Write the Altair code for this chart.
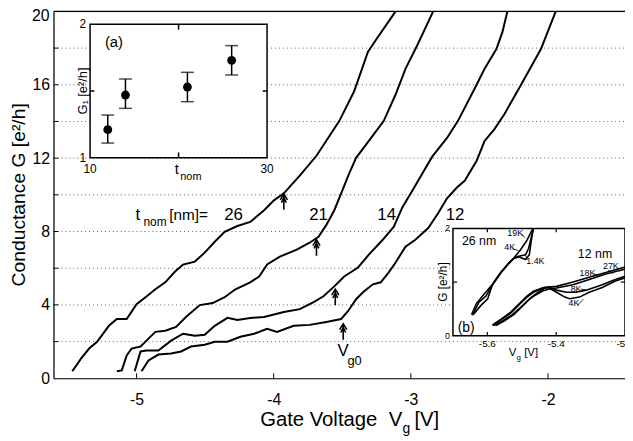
import altair as alt
import pandas as pd

FONT = "Liberation Sans"

# ---------------- main panel: conductance vs gate voltage ----------------
SERIES = ["26", "21", "14", "12"]

V_26 = [-5.469, -5.404, -5.346, -5.288, -5.202, -5.144, -5.072, -5.000, -4.935, -4.863,
        -4.791, -4.719, -4.661, -4.575, -4.503, -4.430, -4.358, -4.265, -4.171, -4.070,
        -3.998, -3.926, -3.810, -3.688, -3.522, -3.414, -3.313, -3.255, -3.111]
G_26 = [0.38, 1.08, 1.62, 1.99, 2.86, 3.23, 3.23, 4.04, 4.42, 4.85,
        5.23, 5.82, 6.20, 6.36, 6.85, 7.44, 7.98, 8.30, 8.52, 9.16,
        9.70, 10.08, 11.05, 12.13, 14.02, 15.63, 17.79, 18.44, 20.0]

V_21 = [-5.144, -5.108, -5.072, -5.036, -4.971, -4.928, -4.863, -4.791, -4.712, -4.640,
        -4.539, -4.445, -4.358, -4.279, -4.171, -4.106, -4.048, -3.955, -3.832, -3.738,
        -3.673, -3.616, -3.558, -3.508, -3.450, -3.399, -3.306, -3.198, -3.111, -3.039,
        -2.952, -2.837]
G_21 = [0.38, 0.43, 1.24, 1.62, 1.73, 2.05, 2.53, 2.59, 2.80, 3.34,
        3.99, 4.10, 4.42, 4.85, 5.23, 5.55, 6.20, 6.63, 7.01, 7.39,
        7.71, 8.36, 9.16, 10.08, 11.16, 12.02, 12.94, 14.02, 15.47, 16.87,
        18.17, 20.0]

V_14 = [-5.014, -4.971, -4.928, -4.841, -4.748, -4.661, -4.575, -4.503, -4.430, -4.337,
        -4.265, -4.171, -4.070, -3.926, -3.810, -3.709, -3.637, -3.558, -3.486, -3.385,
        -3.306, -3.205, -3.125, -3.061, -2.988, -2.916, -2.844, -2.736, -2.657, -2.534,
        -2.462, -2.376, -2.332, -2.296]
G_14 = [0.38, 1.46, 1.51, 1.51, 2.05, 2.43, 2.32, 2.37, 2.86, 3.29,
        3.18, 3.29, 3.34, 3.61, 3.77, 4.15, 4.47, 5.01, 5.55, 6.04,
        6.74, 7.55, 8.25, 9.33, 10.24, 11.16, 12.08, 13.10, 14.02, 15.80,
        16.87, 17.95, 18.87, 20.0]

V_12 = [-4.964, -4.913, -4.841, -4.748, -4.676, -4.603, -4.503, -4.430, -4.337, -4.243,
        -4.142, -4.048, -3.976, -3.854, -3.738, -3.616, -3.508, -3.457, -3.399, -3.349,
        -3.277, -3.219, -3.161, -3.111, -3.039, -2.967, -2.873, -2.801, -2.736, -2.664,
        -2.606, -2.520, -2.462, -2.390, -2.318, -2.195, -2.051, -1.994, -1.943]
G_12 = [0.38, 0.97, 1.29, 1.35, 1.46, 1.73, 1.83, 1.99, 1.99, 2.26,
        2.43, 2.70, 2.53, 2.86, 2.91, 3.07, 3.23, 3.67, 4.31, 4.69,
        5.12, 5.23, 5.77, 6.31, 7.17, 7.55, 8.19, 9.00, 9.81, 10.40,
        10.78, 11.86, 12.94, 13.58, 14.39, 16.01, 17.95, 19.03, 20.0]

Y_TICKS = [0, 4, 8, 12, 16]
Y_MINOR = [2, 4, 6, 8, 10, 12, 14, 16, 18]
X_TICKS = [-5, -4, -3, -2]

LABEL_TEXT = ["26", "21", "14", "12"]
LABEL_V = [-4.293, -3.673, -3.176, -2.678]
LABEL_G = [8.63, 8.63, 8.63, 8.63]

TNOM_TEXT = ["t", "nom", "[nm]="]
TNOM_V = [-5.007, -4.950, -4.762]
TNOM_G = [8.63, 8.30, 8.63]
TNOM_SIZE = [17, 12, 15.5]

ARROW_V = [-3.926, -3.688, -3.551, -3.493]
ARROW_G = [9.62, 7.12, 4.42, 2.54]

VG0_TEXT = ["V", "g0"]
VG0_V = [-3.493, -3.462]
VG0_G = [1.24, 0.70]

# ---------------- inset (a): G1 vs t_nom ----------------
T_NOM = [12, 14, 21, 26]
G1 = [1.21, 1.47, 1.53, 1.73]
G1_LO = [1.11, 1.37, 1.42, 1.62]
G1_HI = [1.32, 1.59, 1.64, 1.84]

# ---------------- inset (b): low-G region at several temperatures ----------------
B_CURVES = {
    "26nm 19K": ([-5.646, -5.632, -5.609, -5.585, -5.561, -5.537, -5.523, -5.504, -5.485, -5.471, -5.466],
                 [0.39, 0.60, 0.78, 0.96, 1.18, 1.36, 1.45, 1.60, 1.78, 1.96, 2.0]),
    "26nm 4K": ([-5.640, -5.618, -5.599, -5.585, -5.561, -5.537, -5.523, -5.509, -5.489, -5.480, -5.471, -5.466],
                [0.40, 0.57, 0.69, 0.96, 1.18, 1.36, 1.45, 1.48, 1.51, 1.63, 1.87, 2.0]),
    "26nm 1.4K": ([-5.643, -5.625, -5.604, -5.585, -5.561, -5.537, -5.523, -5.509, -5.489, -5.478, -5.473, -5.467],
                  [0.38, 0.62, 0.74, 0.95, 1.17, 1.35, 1.44, 1.47, 1.42, 1.51, 1.75, 1.98]),
    "12nm 4K": ([-5.585, -5.560, -5.532, -5.504, -5.485, -5.466, -5.437, -5.423, -5.399, -5.375, -5.361, -5.332, -5.304, -5.266, -5.228, -5.200],
                [0.19, 0.30, 0.42, 0.60, 0.72, 0.81, 0.89, 0.90, 0.81, 0.72, 0.69, 0.72, 0.81, 0.90, 1.02, 1.08]),
    "12nm 8K": ([-5.585, -5.560, -5.532, -5.504, -5.485, -5.466, -5.437, -5.423, -5.399, -5.370, -5.342, -5.313, -5.266, -5.228, -5.200],
                [0.20, 0.31, 0.44, 0.62, 0.74, 0.83, 0.90, 0.91, 0.85, 0.81, 0.81, 0.85, 0.95, 1.05, 1.11]),
    "12nm 18K": ([-5.580, -5.555, -5.528, -5.500, -5.480, -5.460, -5.437, -5.420, -5.399, -5.351, -5.304, -5.256, -5.200],
                 [0.19, 0.28, 0.39, 0.55, 0.67, 0.76, 0.84, 0.87, 0.89, 0.95, 1.05, 1.15, 1.24]),
    "12nm 27K": ([-5.575, -5.550, -5.522, -5.495, -5.475, -5.455, -5.435, -5.420, -5.399, -5.351, -5.304, -5.256, -5.200],
                 [0.19, 0.28, 0.40, 0.57, 0.70, 0.80, 0.88, 0.91, 0.92, 1.00, 1.09, 1.18, 1.28]),
}

B_TEMP_TEXT = ["19K", "4K", "1.4K", "18K", "27K", "8K", "4K"]
B_TEMP_V = [-5.542, -5.551, -5.487, -5.332, -5.264, -5.358, -5.364]
B_TEMP_G = [1.86, 1.59, 1.33, 1.11, 1.24, 0.81, 0.55]

B_LEAD_V = [-5.502, -5.528, -5.484, -5.292, -5.249, -5.329, -5.338]
B_LEAD_V2 = [-5.490, -5.510, -5.490, -5.275, -5.234, -5.312, -5.321]
B_LEAD_G = [1.90, 1.62, 1.42, 1.16, 1.22, 0.87, 0.57]
B_LEAD_G2 = [1.83, 1.59, 1.51, 1.11, 1.16, 0.85, 0.68]

B_BIG_TEXT = ["26 nm", "12 nm", "(b)"]
B_BIG_V = [-5.674, -5.337, -5.686]
B_BIG_G = [1.70, 1.45, 0.07]
B_BIG_SIZE = [12.5, 12.5, 14]

B_X_TICKS = [-5.6, -5.4, -5.2]
B_X_LABELS = ["-5.6", "-5.4", "-5.2"]
B_Y_LABELS_V = [2, 0]

# ---------------- layout ----------------
W, H = 578, 371
X_DOMAIN = [-5.606, -1.438]
Y_DOMAIN = [0, 20]
A_X_RANGE = [37, 216]
A_Y_RANGE = [148, 13]
B_X_RANGE = [404, 578]
B_Y_RANGE = [328, 219.5]

xs = alt.Scale(domain=X_DOMAIN, nice=False, zero=False)
ys = alt.Scale(domain=Y_DOMAIN, nice=False, zero=False)

x_axis = alt.Axis(values=X_TICKS, labelExpr="'-' + abs(datum.value)", ticks=False, grid=False,
                  domainColor="black", domainWidth=1.2, labelFont=FONT, labelFontSize=16,
                  labelColor="black", labelPadding=14, labelOverlap=False, title=None)
y_axis = alt.Axis(values=Y_TICKS, ticks=False, grid=False,
                  domainColor="black", domainWidth=1.2, labelFont=FONT, labelFontSize=16,
                  labelColor="black", labelPadding=4, labelOverlap=False,
                  title="Conductance  G  [e²/h]", titleFont=FONT, titleFontSize=19.5,
                  titleFontWeight="normal", titleColor="black", titleX=-35, titleY=185,
                  titleAngle=270, titleAlign="center", titleBaseline="middle")

X = alt.X("V:Q", scale=xs, axis=x_axis)
Y = alt.Y("G:Q", scale=ys, axis=y_axis)

rows = []
for s, vv, gg in zip(SERIES, [V_26, V_21, V_14, V_12], [G_26, G_21, G_14, G_12]):
    for i, (v, g) in enumerate(zip(vv, gg)):
        rows.append({"s": s, "i": i, "V": v, "G": g})
curve_df = pd.DataFrame(rows)

grid = alt.Chart(pd.DataFrame({"G": Y_MINOR})).mark_rule(
    color="#666", strokeWidth=1, strokeDash=[1, 3]).encode(
    y=Y, x=alt.value(0), x2=alt.value(W))

curves = alt.Chart(curve_df).mark_line(color="black", strokeWidth=2).encode(
    x=X, y=Y, detail="s:N", order="i:Q")

one = pd.DataFrame({"d": [0]})
top_frame = alt.Chart(one).mark_rule(color="black", strokeWidth=1.2).encode(
    x=alt.value(0), x2=alt.value(W), y=alt.value(0))
top_label = alt.Chart(one).mark_text(font=FONT, fontSize=16, align="right", baseline="middle",
                                     color="black", text="20").encode(
    x=alt.value(-4), y=alt.value(5))

yticks = alt.Chart(pd.DataFrame({"G": Y_MINOR})).mark_rule(color="black").encode(
    y=Y, x=alt.value(0), x2=alt.value(5))
xticks = alt.Chart(pd.DataFrame({"V": X_TICKS})).mark_rule(color="black").encode(
    x=X, y=alt.value(H), y2=alt.value(H - 5))

labels = alt.Chart(pd.DataFrame({"V": LABEL_V, "G": LABEL_G, "txt": LABEL_TEXT})).mark_text(
    font=FONT, fontSize=17, align="center", baseline="alphabetic", color="black").encode(
    x=X, y=Y, text="txt:N")

tnom = alt.Chart(pd.DataFrame({"V": TNOM_V, "G": TNOM_G, "txt": TNOM_TEXT, "sz": TNOM_SIZE})).mark_text(
    font=FONT, align="left", baseline="alphabetic", color="black").encode(
    x=X, y=Y, text="txt:N", size=alt.Size("sz:Q", scale=None, legend=None))

ARROW_PATH = "M0,-1L0,1M-0.45,-0.25L0,-1L0.45,-0.25M-0.3,0.1L0,-0.55L0.3,0.1"
arrows = alt.Chart(pd.DataFrame({"V": ARROW_V, "G": ARROW_G})).mark_point(
    shape=ARROW_PATH, size=260, filled=False, color="black", strokeWidth=1.6, opacity=1).encode(
    x=X, y=Y)

vg0_a = alt.Chart(pd.DataFrame({"V": VG0_V[:1], "G": VG0_G[:1], "txt": VG0_TEXT[:1]})).mark_text(
    font=FONT, fontSize=17, align="center", baseline="alphabetic", color="black").encode(
    x=X, y=Y, text="txt:N")
vg0_b = alt.Chart(pd.DataFrame({"V": VG0_V[1:], "G": VG0_G[1:], "txt": VG0_TEXT[1:]})).mark_text(
    font=FONT, fontSize=13, align="left", baseline="alphabetic", color="black").encode(
    x=X, y=Y, text="txt:N")

XT_TEXT = ["Gate Voltage", "V", "g", "[V]"]
XT_X = [209, 339, 353, 365]
XT_Y = [419, 419, 426, 419]
XT_SIZE = [20.5, 20.5, 14, 20.5]
xtitle = alt.Chart(pd.DataFrame({"px": XT_X, "py": XT_Y, "txt": XT_TEXT, "sz": XT_SIZE})).mark_text(
    font=FONT, align="left", baseline="alphabetic", color="black").encode(
    x=alt.X("px:Q", scale=None), y=alt.Y("py:Q", scale=None), text="txt:N",
    size=alt.Size("sz:Q", scale=None, legend=None))

main = alt.layer(grid, curves, top_frame, top_label, yticks, xticks, labels, tnom, arrows,
                 vg0_a, vg0_b, xtitle)

# ---------------- inset (a) ----------------
xa = alt.Scale(domain=[10, 30], range=A_X_RANGE, nice=False, zero=False)
ya = alt.Scale(domain=[1, 2], range=A_Y_RANGE, nice=False, zero=False)
XA = alt.X("t:Q", scale=xa, axis=None)
YA = alt.Y("g:Q", scale=ya, axis=None)

a_bg = alt.Chart(pd.DataFrame({"t": [10], "t2": [30], "g": [1], "g2": [2]})).mark_rect(
    fill="white", stroke="black", strokeWidth=1.5).encode(x=XA, x2="t2:Q", y=YA, y2="g2:Q")
a_ticks = alt.Chart(pd.DataFrame({"t": [20, 20, 10, 29.5], "t2": [20, 20, 10.5, 30],
                                  "g": [1, 1.96, 1.5, 1.5], "g2": [1.04, 2, 1.5, 1.5]})).mark_rule(
    color="black", strokeWidth=1.5).encode(x=XA, x2="t2:Q", y=YA, y2="g2:Q")
a_df = pd.DataFrame({"t": T_NOM, "g": G1, "lo": G1_LO, "hi": G1_HI})
a_err = alt.Chart(a_df).mark_rule(color="black", strokeWidth=1.5).encode(
    x=XA, y=alt.Y("lo:Q", scale=ya, axis=None), y2="hi:Q")
a_cap_lo = alt.Chart(a_df).mark_tick(orient="horizontal", size=13, thickness=1.5, color="black").encode(
    x=XA, y=alt.Y("lo:Q", scale=ya, axis=None))
a_cap_hi = alt.Chart(a_df).mark_tick(orient="horizontal", size=13, thickness=1.5, color="black").encode(
    x=XA, y=alt.Y("hi:Q", scale=ya, axis=None))
a_pts = alt.Chart(a_df).mark_circle(size=80, color="black", opacity=1).encode(x=XA, y=YA)
a_xlab = alt.Chart(pd.DataFrame({"t": [10, 30], "g": [1, 1], "txt": ["10", "30"]})).mark_text(
    font=FONT, fontSize=12, align="center", baseline="top", dy=6, color="black").encode(
    x=XA, y=YA, text="txt:N")
a_ylab = alt.Chart(pd.DataFrame({"t": [10, 10], "g": [2, 1], "txt": ["2", "1"]})).mark_text(
    font=FONT, fontSize=12, align="right", baseline="middle", dx=-4, color="black").encode(
    x=XA, y=YA, text="txt:N")
a_xt1 = alt.Chart(pd.DataFrame({"t": [19.8], "g": [1], "txt": ["t"]})).mark_text(
    font=FONT, fontSize=15, align="center", baseline="alphabetic", dy=16, color="black").encode(
    x=XA, y=YA, text="txt:N")
a_xt2 = alt.Chart(pd.DataFrame({"t": [20.2], "g": [1], "txt": ["nom"]})).mark_text(
    font=FONT, fontSize=11, align="left", baseline="alphabetic", dy=22, color="black").encode(
    x=XA, y=YA, text="txt:N")
a_yt = alt.Chart(pd.DataFrame({"t": [9.2], "g": [1.5], "txt": ["G₁ [e²/h]"]})).mark_text(
    font=FONT, fontSize=13, align="center", baseline="middle", angle=270, color="black").encode(
    x=XA, y=YA, text="txt:N")
a_tag = alt.Chart(pd.DataFrame({"t": [12.7], "g": [1.867], "txt": ["(a)"]})).mark_text(
    font=FONT, fontSize=15, align="center", baseline="middle", color="black").encode(
    x=XA, y=YA, text="txt:N")

inset_a = alt.layer(a_bg, a_ticks, a_err, a_cap_lo, a_cap_hi, a_pts, a_xlab, a_ylab,
                    a_xt1, a_xt2, a_yt, a_tag)

# ---------------- inset (b) ----------------
xb = alt.Scale(domain=[-5.7, -5.2], range=B_X_RANGE, nice=False, zero=False)
yb = alt.Scale(domain=[0, 2], range=B_Y_RANGE, nice=False, zero=False)
XB = alt.X("vb:Q", scale=xb, axis=None)
YB = alt.Y("gb:Q", scale=yb, axis=None)

b_rows = []
for name, (vv, gg) in B_CURVES.items():
    for i, (v, g) in enumerate(zip(vv, gg)):
        b_rows.append({"c": name, "i": i, "vb": v, "gb": g})
b_df = pd.DataFrame(b_rows)

b_bg = alt.Chart(pd.DataFrame({"vb": [-5.7], "vb2": [-5.2], "gb": [0], "gb2": [2]})).mark_rect(
    fill="white", stroke="black", strokeWidth=1.5).encode(x=XB, x2="vb2:Q", y=YB, y2="gb2:Q")
b_ticks = alt.Chart(pd.DataFrame({"vb": [-5.6, -5.4, -5.6, -5.4, -5.7, -5.212],
                                  "vb2": [-5.6, -5.4, -5.6, -5.4, -5.688, -5.2],
                                  "gb": [0, 0, 1.93, 1.93, 1, 1],
                                  "gb2": [0.07, 0.07, 2, 2, 1, 1]})).mark_rule(
    color="black", strokeWidth=1.2).encode(x=XB, x2="vb2:Q", y=YB, y2="gb2:Q")
b_lines = alt.Chart(b_df).mark_line(color="black", strokeWidth=1.6).encode(
    x=XB, y=YB, detail="c:N", order="i:Q")
b_lead = alt.Chart(pd.DataFrame({"vb": B_LEAD_V, "vb2": B_LEAD_V2, "gb": B_LEAD_G, "gb2": B_LEAD_G2})).mark_rule(
    color="black", strokeWidth=0.8).encode(x=XB, x2="vb2:Q", y=YB, y2="gb2:Q")
b_temp = alt.Chart(pd.DataFrame({"vb": B_TEMP_V, "gb": B_TEMP_G, "txt": B_TEMP_TEXT})).mark_text(
    font=FONT, fontSize=9, align="left", baseline="alphabetic", color="black").encode(
    x=XB, y=YB, text="txt:N")
b_big = alt.Chart(pd.DataFrame({"vb": B_BIG_V, "gb": B_BIG_G, "txt": B_BIG_TEXT, "sz": B_BIG_SIZE})).mark_text(
    font=FONT, align="left", baseline="alphabetic", color="black").encode(
    x=XB, y=YB, text="txt:N", size=alt.Size("sz:Q", scale=None, legend=None))
b_xlab = alt.Chart(pd.DataFrame({"vb": B_X_TICKS, "gb": [0, 0, 0], "txt": B_X_LABELS})).mark_text(
    font=FONT, fontSize=10, align="center", baseline="top", dy=3, color="black").encode(
    x=XB, y=YB, text="txt:N")
b_ylab = alt.Chart(pd.DataFrame({"vb": [-5.7, -5.7], "gb": B_Y_LABELS_V, "txt": ["2", "0"]})).mark_text(
    font=FONT, fontSize=9, align="right", baseline="middle", dx=-3, color="black").encode(
    x=XB, y=YB, text="txt:N")
b_yt = alt.Chart(pd.DataFrame({"vb": [-5.729], "gb": [1], "txt": ["G [e²/h]"]})).mark_text(
    font=FONT, fontSize=12, align="center", baseline="middle", angle=270, color="black").encode(
    x=XB, y=YB, text="txt:N")
b_xt = alt.Chart(pd.DataFrame({"vb": [-5.538, -5.493], "gb": [0, 0], "txt": ["V", "[V]"]})).mark_text(
    font=FONT, fontSize=11.5, align="left", baseline="alphabetic", dy=21, color="black").encode(
    x=XB, y=YB, text="txt:N")
b_xs = alt.Chart(pd.DataFrame({"vb": [-5.515], "gb": [0], "txt": ["g"]})).mark_text(
    font=FONT, fontSize=8, align="left", baseline="alphabetic", dy=25, color="black").encode(
    x=XB, y=YB, text="txt:N")

inset_b = alt.layer(b_bg, b_ticks, b_lines, b_lead, b_temp, b_big, b_xlab, b_ylab, b_yt, b_xt, b_xs)

chart = alt.layer(main, inset_a, inset_b).resolve_scale(
    x="independent", y="independent").properties(
    width=W, height=H,
    autosize=alt.AutoSizeParams(type="none"),
    padding={"left": 46, "top": 1, "right": 0, "bottom": 60},
).configure_view(stroke=None).configure(background="white")

chart.save("out.html", embed_options={"renderer": "svg", "actions": False})
